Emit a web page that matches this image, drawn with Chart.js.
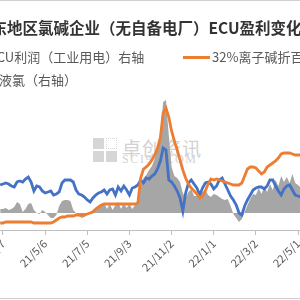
<!DOCTYPE html>
<html>
<head>
<meta charset="utf-8">
<script src="https://cdn.jsdelivr.net/npm/chart.js@4.4.1/dist/chart.umd.min.js"></script>
<style>
  html, body { margin: 0; padding: 0; }
  body { width: 300px; height: 300px; overflow: hidden; position: relative; background: #fff; font-family: "Noto Sans CJK SC", sans-serif; }
  .rule { position: absolute; left: 0; width: 300px; height: 1px; background: #d0d0d0; }
  #title { position: absolute; left: -24px; top: 18px; white-space: nowrap; font-size: 15.5px; font-weight: bold; color: #333; line-height: 18px; }
  .legend { position: absolute; white-space: nowrap; font-size: 13px; line-height: 15px; color: #595959; }
  .swatch { position: absolute; height: 3px; background: #ed7d31; }
  #wm { position: absolute; left: 0; top: 0; width: 300px; height: 300px; }
  .sq { position: absolute; width: 11px; height: 11px; background: #d6d6d6; }
  .wmtext { position: absolute; white-space: nowrap; color: #d2d2d2; }
  #wrap { position: absolute; left: -50px; top: 0; width: 400px; height: 300px; }
</style>
</head>
<body>
<div class="rule" style="top:0"></div>
<div class="rule" style="top:298px"></div>

<div id="wm">
  <div class="sq" style="left:93px;top:138px"></div>
  <div class="sq" style="left:106px;top:138px;background:none;border:1px dotted #d6d6d6;width:9px;height:9px"></div>
  <div class="sq" style="left:93px;top:151px"></div>
  <div class="sq" style="left:106px;top:151px"></div>
  <div class="wmtext" style="left:122px;top:134px;font-size:19px;letter-spacing:1px">卓创资讯</div>
  <div class="wmtext" style="left:122px;top:152px;font-size:12px;font-family:'Liberation Serif',serif;letter-spacing:1.6px">SCI99.COM</div>
</div>

<div id="wrap"><canvas id="chart" width="400" height="300"></canvas></div>

<div id="title">华东地区氯碱企业（无自备电厂）ECU盈利变化</div>
<div class="legend" style="left:-11px;top:49px">ECU利润（工业用电）右轴</div>
<div class="swatch" style="left:183px;top:56px;width:27px"></div>
<div class="legend" style="left:212px;top:49px">32%离子碱折百价格（左轴）</div>
<div class="legend" style="left:-1px;top:72px">液氯（右轴）</div>

<script>
// sample dates (every 4 days)
const dates = [
  '2021/3/3','2021/3/7','2021/3/11','2021/3/15','2021/3/19','2021/3/23','2021/3/27','2021/3/31',
  '2021/4/4','2021/4/8','2021/4/12','2021/4/16','2021/4/20','2021/4/24','2021/4/28',
  '2021/5/2','2021/5/6','2021/5/10','2021/5/14','2021/5/18','2021/5/22','2021/5/26','2021/5/30',
  '2021/6/3','2021/6/7','2021/6/11','2021/6/15','2021/6/19','2021/6/23','2021/6/27',
  '2021/7/1','2021/7/5','2021/7/9','2021/7/13','2021/7/17','2021/7/21','2021/7/25','2021/7/29',
  '2021/8/2','2021/8/6','2021/8/10','2021/8/14','2021/8/18','2021/8/22','2021/8/26','2021/8/30',
  '2021/9/3','2021/9/7','2021/9/11','2021/9/15','2021/9/19','2021/9/23','2021/9/27',
  '2021/10/1','2021/10/5','2021/10/9','2021/10/13','2021/10/17','2021/10/21','2021/10/25','2021/10/29',
  '2021/11/2','2021/11/6','2021/11/10','2021/11/14','2021/11/18','2021/11/22','2021/11/26','2021/11/30',
  '2021/12/4','2021/12/8','2021/12/12','2021/12/16','2021/12/20','2021/12/24','2021/12/28',
  '2022/1/1','2022/1/5','2022/1/9','2022/1/13','2022/1/17','2022/1/21','2022/1/25','2022/1/29',
  '2022/2/2','2022/2/6','2022/2/10','2022/2/14','2022/2/18','2022/2/22','2022/2/26',
  '2022/3/2','2022/3/6','2022/3/10','2022/3/14','2022/3/18','2022/3/22','2022/3/26','2022/3/30',
  '2022/4/3','2022/4/7','2022/4/11','2022/4/15','2022/4/19','2022/4/23','2022/4/27',
  '2022/5/1','2022/5/5'
];

// 32%离子碱折百价格 (left axis)
const caustic = [
  1410,1410,1440,1440,1440,1440,1440,1440,1440,1440,
  1440,1440,1410,1410,1410,1410,1410,1410,1410,1440,
  1500,1560,1590,1590,1620,1620,1620,1650,1650,1650,
  1650,1680,1710,1740,1830,1890,1950,1980,1980,1980,
  1980,1980,1980,1980,1980,1980,1980,1980,1980,2010,
  2760,3030,3090,3180,3300,3450,3660,3960,4710,4860,
  4590,4170,3870,3600,3300,3000,2760,2580,2460,2370,
  2280,2160,2220,2370,2580,2730,2700,2730,2700,2670,
  2640,2610,2580,2550,2550,2550,2610,2820,3030,3090,
  3090,3060,2970,2880,2940,3090,3150,3210,3270,3360,
  3480,3510,3510,3510,3480,3450,3450,3450
];

// 液氯 (right axis)
const chlorine = [
  560,580,600,580,540,520,620,640,620,680,
  720,620,440,540,520,440,400,420,440,360,
  380,420,600,660,660,660,620,460,380,360,
  320,260,220,300,360,400,420,460,380,460,
  480,360,520,440,540,460,360,500,520,560,
  660,600,700,680,740,780,880,1040,1300,1260,
  660,620,540,440,300,40,400,600,660,580,
  500,360,500,600,620,580,480,540,660,700,
  580,460,340,260,160,0,-40,140,260,360,
  460,500,520,520,480,540,660,660,540,440,
  360,480,540,560,460,360,340,320
];

// ECU利润（工业用电）(right axis)
const ecu = [
  80,80,100,60,80,120,220,180,20,80,
  180,200,60,0,-20,60,20,-40,-100,-100,
  -40,140,240,260,260,240,60,0,-60,-100,
  -80,-20,20,60,100,120,140,200,80,180,
  60,160,220,80,200,100,180,80,160,260,
  560,700,760,860,940,1080,1280,1620,2220,2260,
  1560,920,740,700,620,400,300,420,480,340,
  340,400,420,460,360,320,380,360,320,280,
  260,280,140,-20,-100,-180,-120,20,160,280,
  380,360,500,380,540,420,580,460,660,540,
  740,620,720,600,780,600,560,500
];

const tickLabels = ['21/3/7','21/5/6','21/7/5','21/9/3','21/11/2','22/1/1','22/3/2','22/5/1'];

function dayNum(s) {
  const p = s.split('/').map(Number);
  const y = p[0] < 100 ? 2000 + p[0] : p[0];
  return Date.UTC(y, p[1] - 1, p[2]) / 86400000;
}
const day0 = dayNum('2021/3/7');
const xs = dates.map(s => dayNum(s) - day0);
const tickDays = tickLabels.map(s => dayNum(s) - day0);
const pts = arr => arr.map((v, i) => ({ x: xs[i], y: v }));

const font = "'Noto Sans CJK SC', sans-serif";

new Chart(document.getElementById('chart'), {
  type: 'line',
  data: {
    datasets: [
      { label: '32%离子碱折百价格（左轴）', data: pts(caustic), yAxisID: 'y',
        borderColor: '#ed7d31', borderWidth: 2.8, pointRadius: 0, tension: 0, order: 0 },
      { label: '液氯（右轴）', data: pts(chlorine), yAxisID: 'y2',
        borderColor: '#4472c4', borderWidth: 2.8, pointRadius: 0, tension: 0, order: 1 },
      { label: 'ECU利润（工业用电）右轴', data: pts(ecu), yAxisID: 'y2',
        borderWidth: 0, backgroundColor: '#a6a6a6', fill: 'origin', pointRadius: 0, tension: 0, order: 2 }
    ]
  },
  options: {
    responsive: false,
    animation: false,
    layout: { padding: { left: 50, right: 50, top: 30, bottom: 0 } },
    plugins: { legend: { display: false }, title: { display: false }, tooltip: { enabled: false } },
    scales: {
      x: {
        type: 'linear', min: -4.27, max: 422.8,
        afterBuildTicks: s => { s.ticks = tickDays.map(v => ({ value: v })); },
        afterFit: s => { s.height = 70; },
        grid: { drawOnChartArea: false, tickLength: 5, color: '#bfbfbf' },
        border: { color: '#bfbfbf' },
        ticks: {
          autoSkip: false, minRotation: 45, maxRotation: 45, padding: 2,
          color: '#595959', font: { family: font, size: 11 },
          callback: (v, i) => tickLabels[i]
        }
      },
      y: { display: false, min: 1200, max: 7200 },
      y2: { display: false, position: 'right', min: -340, max: 3660 }
    }
  }
});
</script>
</body>
</html>
